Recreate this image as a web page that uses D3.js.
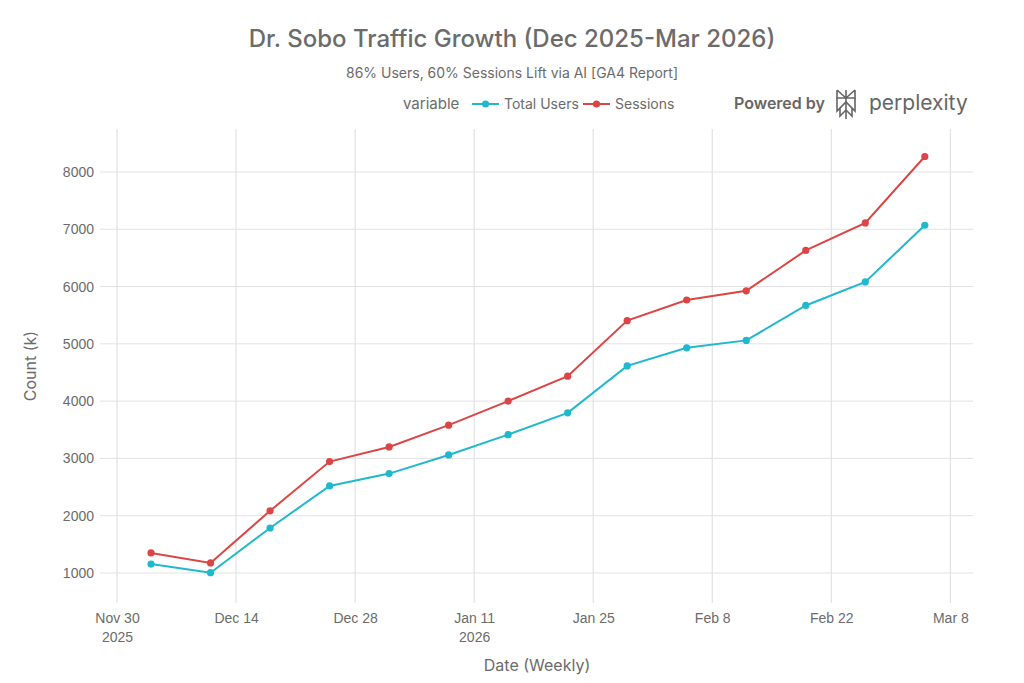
<!DOCTYPE html>
<html>
<head>
<meta charset="utf-8">
<script src="https://cdn.jsdelivr.net/npm/d3@7"></script>
<style>
  body { margin: 0; background: #fff; }
  svg { font-family: Inter, "Noto Sans", sans-serif; }
</style>
</head>
<body>
<svg width="1024" height="683"></svg>
<script>
// weekly dates
var dates = ["2025-12-04", "2025-12-11", "2025-12-18", "2025-12-25", "2026-01-01", "2026-01-08",
  "2026-01-15", "2026-01-22", "2026-01-29", "2026-02-05", "2026-02-12", "2026-02-19",
  "2026-02-26", "2026-03-05"];
var totalUsers = [1155, 1005, 1785, 2520, 2735, 3060, 3415, 3795, 4615, 4930, 5060, 5670, 6080, 7070];
var sessions = [1350, 1175, 2085, 2945, 3200, 3580, 4000, 4435, 5405, 5765, 5925, 6630, 7110, 8270];
var yTicks = [1000, 2000, 3000, 4000, 5000, 6000, 7000, 8000];
var xTickDates = ["2025-11-30", "2025-12-14", "2025-12-28", "2026-01-11", "2026-01-25",
  "2026-02-08", "2026-02-22", "2026-03-08"];
var seriesNames = ["Total Users", "Sessions"];
var colors = ["#1FB8CD", "#DB4545"];

var parse = d3.timeParse("%Y-%m-%d");
var width = 1024, height = 683;
var margin = {left: 100, right: 51, top: 129, bottom: 80};
var textColor = "#6b6b6b";

var svg = d3.select("svg");

var xScale = d3.scaleTime()
  .domain([new Date(2025, 10, 28), new Date(2026, 2, 10, 16)])
  .range([margin.left, width - margin.right]);
var yScale = d3.scaleLinear()
  .domain([476, 8750])
  .range([height - margin.bottom, margin.top]);

// grid
svg.append("g").selectAll("line")
  .data(xTickDates.map(parse))
  .enter().append("line")
  .attr("x1", function(d) { return xScale(d); })
  .attr("x2", function(d) { return xScale(d); })
  .attr("y1", margin.top)
  .attr("y2", height - margin.bottom)
  .attr("stroke", "#dcdcdc").attr("stroke-width", 1);
svg.append("g").selectAll("line")
  .data(yTicks)
  .enter().append("line")
  .attr("x1", margin.left)
  .attr("x2", width - margin.right)
  .attr("y1", function(d) { return yScale(d); })
  .attr("y2", function(d) { return yScale(d); })
  .attr("stroke", "#e2e2e2").attr("stroke-width", 1);

// axes
var yAxis = d3.axisLeft(yScale).tickValues(yTicks).tickSize(0).tickPadding(6)
  .tickFormat(d3.format("d"));
var gy = svg.append("g")
  .attr("transform", "translate(" + margin.left + ",0)")
  .call(yAxis);
gy.select(".domain").remove();
gy.selectAll("text").attr("fill", textColor).style("font-size", "14px");

var fmtTop = d3.timeFormat("%b %-d");
var xAxis = d3.axisBottom(xScale).tickValues(xTickDates.map(parse)).tickSize(0).tickPadding(10)
  .tickFormat(fmtTop);
var gx = svg.append("g")
  .attr("transform", "translate(0," + (height - margin.bottom) + ")")
  .call(xAxis);
gx.select(".domain").remove();
gx.selectAll("text").attr("fill", textColor).style("font-size", "14px");
// year line under the first tick of each year
gx.selectAll(".tick").each(function(d, i) {
  if (i === 0 || d.getMonth() === 0 && d.getDate() <= 14) {
    d3.select(this).append("text")
      .attr("y", 39).attr("text-anchor", "middle")
      .attr("fill", textColor).style("font-size", "14px")
      .text(d.getFullYear());
  }
});

// lines + markers
var seriesData = [totalUsers, sessions];
var line = d3.line()
  .x(function(d, i) { return xScale(parse(dates[i])); })
  .y(function(d) { return yScale(d); });

seriesData.forEach(function(vals, s) {
  svg.append("path")
    .datum(vals)
    .attr("d", line)
    .attr("fill", "none")
    .attr("stroke", colors[s])
    .attr("stroke-width", 2);
  svg.append("g").selectAll("circle")
    .data(vals)
    .enter().append("circle")
    .attr("cx", function(d, i) { return xScale(parse(dates[i])); })
    .attr("cy", function(d) { return yScale(d); })
    .attr("r", 3.6)
    .attr("fill", colors[s]);
});

// titles
svg.append("text")
  .attr("x", 512).attr("y", 47)
  .attr("text-anchor", "middle")
  .attr("fill", textColor)
  .style("font-size", "24px")
  .style("font-weight", "500")
  .text("Dr. Sobo Traffic Growth (Dec 2025-Mar 2026)");
svg.append("text")
  .attr("x", 512).attr("y", 78)
  .attr("text-anchor", "middle")
  .attr("fill", textColor)
  .style("font-size", "14px")
  .text("86% Users, 60% Sessions Lift via AI [GA4 Report]");

svg.append("text")
  .attr("transform", "translate(36," + ((margin.top + height - margin.bottom) / 2) + ") rotate(-90)")
  .attr("text-anchor", "middle")
  .attr("fill", textColor)
  .style("font-size", "16px")
  .text("Count (k)");
svg.append("text")
  .attr("x", 537).attr("y", 671)
  .attr("text-anchor", "middle")
  .attr("fill", textColor)
  .style("font-size", "16px")
  .text("Date (Weekly)");

// legend
var legend = svg.append("g").attr("transform", "translate(0,104)");
legend.append("text").attr("x", 403).attr("y", 5)
  .attr("fill", textColor).style("font-size", "15px").text("variable");
var legX = [472, 583];
seriesNames.forEach(function(name, s) {
  var g = legend.append("g").attr("transform", "translate(" + legX[s] + ",0)");
  g.append("line").attr("x1", 0).attr("x2", 27).attr("y1", 0).attr("y2", 0)
    .attr("stroke", colors[s]).attr("stroke-width", 2);
  g.append("circle").attr("cx", 13.5).attr("cy", 0).attr("r", 3.6).attr("fill", colors[s]);
  g.append("text").attr("x", 32).attr("y", 5)
    .attr("fill", textColor).style("font-size", "14px").text(name);
});

// powered by
var pb = svg.append("g").attr("transform", "translate(0,104)");
pb.append("text").attr("x", 734).attr("y", 5)
  .attr("fill", "#666").style("font-size", "16px").style("font-weight", "600")
  .text("Powered by");
var logo = pb.append("g").attr("transform", "translate(834,-15)")
  .attr("fill", "none").attr("stroke", "#666").attr("stroke-width", 1.6);
logo.append("path").attr("d", "M3 1 L12 9 L21 1 M12 1 L12 30 M3 1 L3 9 L21 9 L21 1");
logo.append("path").attr("d", "M3 9 L3 22 L12 13 L21 22 L21 9 M12 13 L3 22 M6 19 L6 27 L12 21 M18 19 L18 27 L12 21");
pb.append("text").attr("x", 869).attr("y", 6)
  .attr("fill", "#666").style("font-size", "21px")
  .text("perplexity");
</script>
</body>
</html>
